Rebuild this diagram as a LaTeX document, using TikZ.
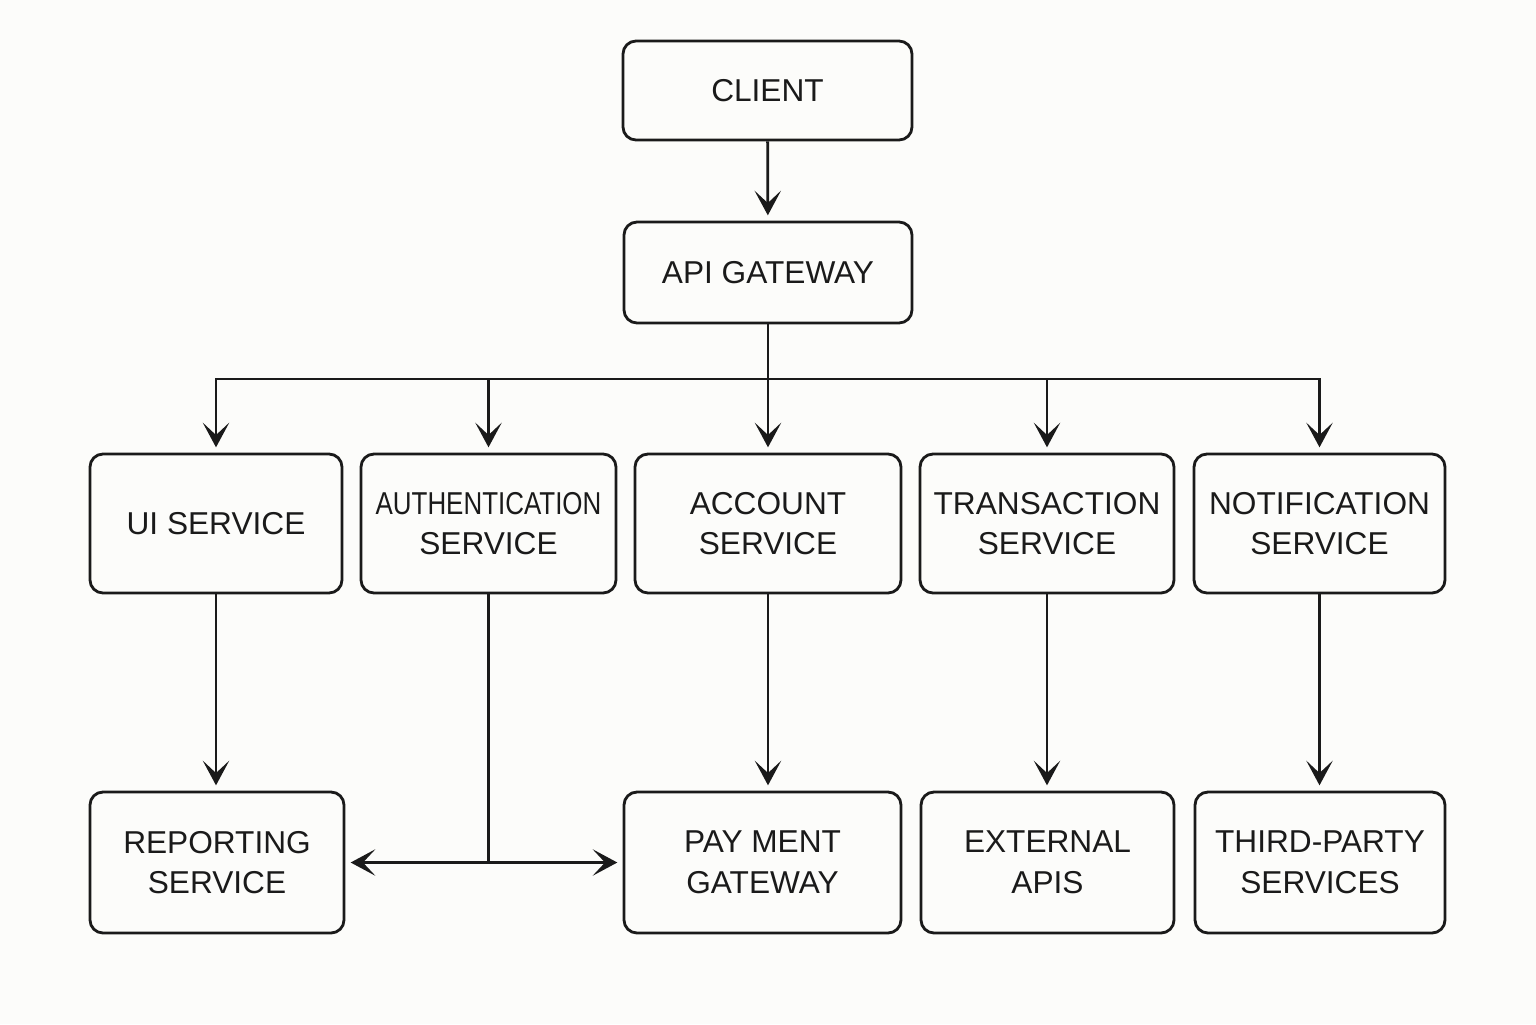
\documentclass[tikz,border=0pt]{standalone}
\usepackage{fontspec}
\setmainfont{Liberation Sans}
\usetikzlibrary{arrows.meta, calc}
\definecolor{paper}{HTML}{FCFCFA}
\definecolor{ink}{HTML}{1A1A1A}

\begin{document}
\begin{tikzpicture}[
	svc/.style={draw=ink, line width=0.8pt, rounded corners=0.13cm, align=center,
		inner sep=0pt, text=ink, font=\fontsize{9}{11.6}\selectfont},
	link/.style={draw=ink, line width=0.8pt, -{Stealth[length=7pt,width=7.5pt,inset=3.5pt]}, shorten >=1.5pt}
	]
	\fill[paper] (0,0) rectangle (15.36,-10.24);
	\useasboundingbox (0,0) rectangle (15.36,-10.24);
	% top
	\node[svc, minimum width=2.89cm, minimum height=0.99cm] (client) at (7.675,-0.905) {CLIENT};
	\node[svc, minimum width=2.88cm, minimum height=1.01cm] (gateway) at (7.68,-2.725) {API GATEWAY};
	% services
	\node[svc, minimum width=2.52cm, minimum height=1.39cm] (ui) at (2.16,-5.235) {UI SERVICE};
	\node[svc, minimum width=2.55cm, minimum height=1.39cm] (auth) at (4.885,-5.235) {\scalebox{0.82}[1]{AUTHENTICATION}\\SERVICE};
	\node[svc, minimum width=2.66cm, minimum height=1.39cm] (account) at (7.68,-5.235) {ACCOUNT\\SERVICE};
	\node[svc, minimum width=2.54cm, minimum height=1.39cm] (trans) at (10.47,-5.235) {TRANSACTION\\SERVICE};
	\node[svc, minimum width=2.51cm, minimum height=1.39cm] (notif) at (13.195,-5.235) {NOTIFICATION\\SERVICE};
	% backends
	\node[svc, minimum width=2.54cm, minimum height=1.41cm] (report) at (2.17,-8.625) {REPORTING\\SERVICE};
	\node[svc, minimum width=2.77cm, minimum height=1.41cm] (payment) at (7.625,-8.625) {PAY MENT\\GATEWAY};
	\node[svc, minimum width=2.53cm, minimum height=1.41cm] (external) at (10.475,-8.625) {EXTERNAL\\APIS};
	\node[svc, minimum width=2.50cm, minimum height=1.41cm] (third) at (13.2,-8.625) {THIRD-PARTY\\SERVICES};

	\coordinate (bus) at (7.68,-3.79);
	\coordinate (split) at (auth |- report);

	\draw[link] (client) -- (gateway);
	\draw[line width=0.8pt, draw=ink] (gateway) -- (bus);
	\draw[link] (bus) -| (ui);
	\draw[link] (bus) -| (auth);
	\draw[link] (bus) -- (account);
	\draw[link] (bus) -| (trans);
	\draw[link] (bus) -| (notif);

	\draw[link] (ui) -- (ui |- report.north);
	\draw[link] (account) -- (account |- payment.north);
	\draw[link] (trans) -- (trans |- external.north);
	\draw[link] (notif) -- (notif |- third.north);

	\draw[line width=0.8pt, draw=ink] (auth) -- (split);
	\draw[link] (split) -- (report);
	\draw[link] (split) -- (payment);
\end{tikzpicture}
\end{document}
